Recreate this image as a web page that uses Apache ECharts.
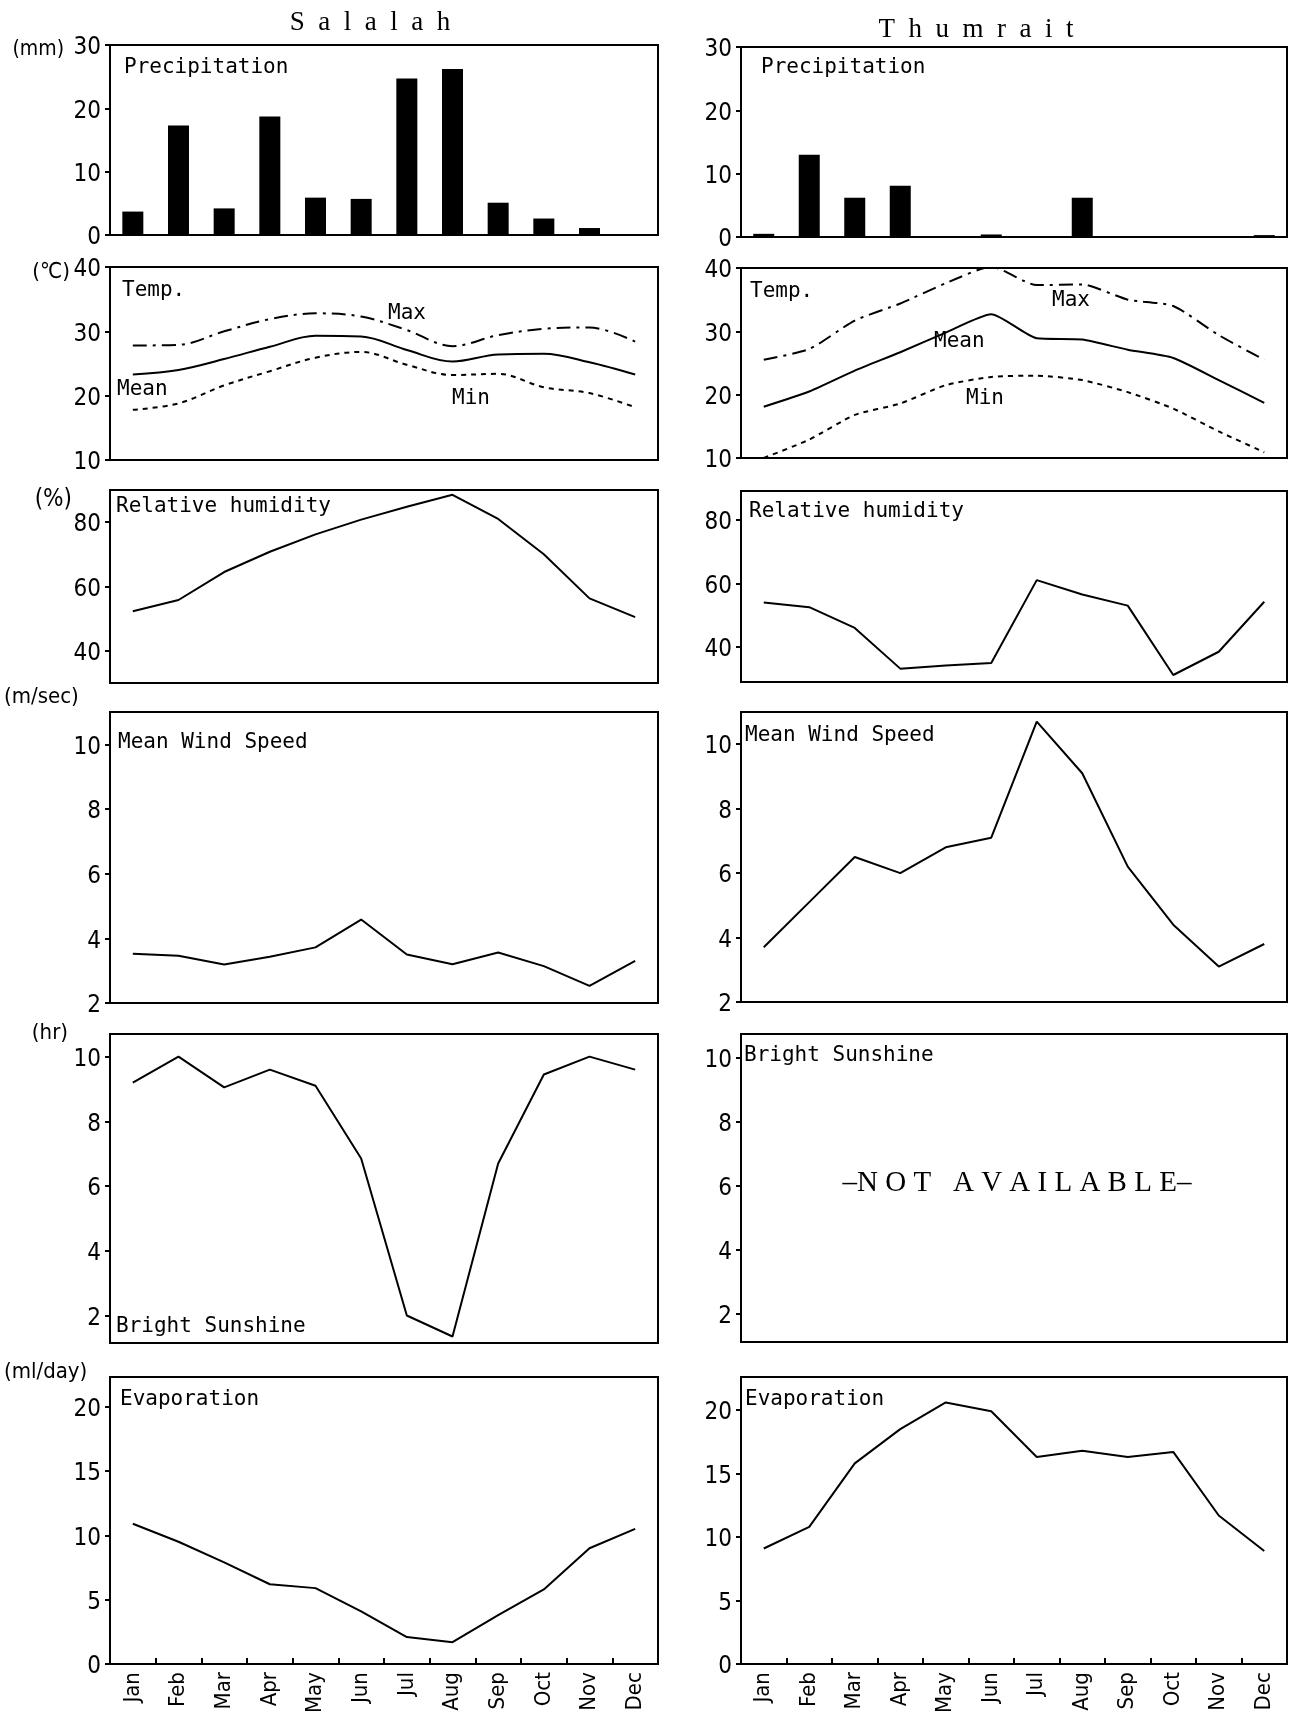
<!DOCTYPE html>
<html>
<head>
<meta charset="utf-8">
<script src="https://cdn.jsdelivr.net/npm/echarts@6/dist/echarts.min.js"></script>
<style>
html,body{margin:0;padding:0;background:#fff;}
#c{width:1289px;height:1716px;}
</style>
</head>
<body>
<div id="c"></div>
<script>
// ---------- data ----------
const months = ['Jan','Feb','Mar','Apr','May','Jun','Jul','Aug','Sep','Oct','Nov','Dec'];

const salalahPrecip = [3.7, 17.3, 4.2, 18.7, 5.9, 5.7, 24.7, 26.2, 5.1, 2.6, 1.1, 0];
const thumraitPrecip = [0.5, 13.0, 6.2, 8.1, 0, 0.4, 0, 6.2, 0, 0, 0, 0.3];

const salalahTMax  = [27.8, 27.9, 30.0, 31.9, 32.8, 32.3, 30.2, 27.7, 29.4, 30.4, 30.6, 28.4];
const salalahTMean = [23.3, 24.0, 25.7, 27.6, 29.3, 29.2, 27.1, 25.3, 26.4, 26.5, 25.2, 23.3];
const salalahTMin  = [17.8, 18.8, 21.6, 23.8, 25.9, 26.8, 24.8, 23.2, 23.4, 21.3, 20.4, 18.2];

const thumraitTMax  = [25.5, 27.2, 31.7, 34.4, 37.6, 40.2, 37.3, 37.4, 35.0, 34.0, 29.4, 25.5];
const thumraitTMean = [18.1, 20.5, 23.8, 26.7, 29.8, 32.7, 28.9, 28.7, 27.1, 25.8, 22.3, 18.7];
const thumraitTMin  = [10.0, 12.9, 16.8, 18.6, 21.5, 22.8, 23.0, 22.3, 20.4, 17.8, 14.2, 10.9];

const salalahRH  = [52.3, 55.8, 64.5, 70.8, 76.2, 80.8, 84.8, 88.5, 81.0, 70.0, 56.3, 50.5];
const thumraitRH = [54.0, 52.5, 46.0, 33.2, 34.2, 35.0, 61.0, 56.5, 53.0, 31.2, 38.5, 54.2];

const salalahWind  = [3.52, 3.46, 3.19, 3.43, 3.72, 4.58, 3.50, 3.20, 3.56, 3.14, 2.53, 3.30];
const thumraitWind = [3.7, 5.1, 6.5, 6.0, 6.8, 7.1, 10.7, 9.1, 6.2, 4.4, 3.1, 3.8];

const salalahSun = [9.2, 10.0, 9.05, 9.6, 9.1, 6.85, 2.0, 1.35, 6.7, 9.45, 10.0, 9.6];

const salalahEvap  = [10.9, 9.5, 7.9, 6.2, 5.9, 4.1, 2.1, 1.7, 3.8, 5.8, 9.0, 10.5];
const thumraitEvap = [9.1, 10.8, 15.8, 18.5, 20.6, 19.9, 16.3, 16.8, 16.3, 16.7, 11.7, 8.9];

const precipTicks = [0, 10, 20, 30];
const tempTicks   = [10, 20, 30, 40];
const rhTicks     = [40, 60, 80];
const windTicks   = [2, 4, 6, 8, 10];
const sunTicks    = [2, 4, 6, 8, 10];
const evapTicks   = [0, 5, 10, 15, 20];

// ---------- layout ----------
const FONT_NUM = "'Liberation Sans Narrow','DejaVu Sans Condensed',sans-serif";
const FONT_MONO = "'DejaVu Sans Mono','Liberation Mono',monospace";
const FONT_SERIF = "'Liberation Serif','DejaVu Serif',serif";

const colL = {left: 110, width: 548};
const colR = {left: 741, width: 546};
const rowsL = [[45,235],[267,460],[490,683],[712,1003],[1034,1343],[1377,1668]];
const rowsR = [[47,237],[268,458],[491,682],[712,1002],[1034,1342],[1377,1668]];
const ranges = [
  {L:[0,30], R:[0,30], ticks: precipTicks},
  {L:[10,40], R:[10,40], ticks: tempTicks},
  {L:[30,90], R:[29,89], ticks: rhTicks},
  {L:[2,11], R:[2,11], ticks: windTicks},
  {L:[1.15,10.7], R:[1.1,10.75], ticks: sunTicks},
  {L:[0,22.3], R:[0,22.6], ticks: evapTicks}
];

const grids = [], xAxes = [], yAxes = [];
for (let r = 0; r < 6; r++) {
  [['L', colL, rowsL], ['R', colR, rowsR]].forEach(([side, col, rows]) => {
    const idx = grids.length;
    grids.push({
      left: col.left, width: col.width, top: rows[r][0], height: rows[r][1] - rows[r][0],
      show: true, borderColor: '#000', borderWidth: 2, backgroundColor: 'transparent'
    });
    const bottomRow = r === 5;
    xAxes.push({
      type: 'category', gridIndex: idx, data: months, boundaryGap: true,
      axisLine: {show: false},
      axisTick: {show: bottomRow, inside: true, length: 6, lineStyle: {color: '#000', width: 2}},
      axisLabel: {show: bottomRow, rotate: 90, margin: 8, color: '#000',
        fontFamily: FONT_NUM, fontSize: 22, interval: 0},
      splitLine: {show: false}
    });
    const rg = ranges[r][side];
    yAxes.push({
      type: 'value', gridIndex: idx, min: rg[0], max: rg[1],
      axisLine: {show: false},
      axisTick: {show: true, inside: false, length: 5, customValues: ranges[r].ticks,
        lineStyle: {color: '#000', width: 2}},
      axisLabel: {show: true, customValues: ranges[r].ticks, margin: 9, color: '#000',
        fontFamily: FONT_NUM, fontSize: 24, verticalAlign: 'top', padding: [-9, 0, 0, 0]},
      splitLine: {show: false}
    });
  });
}

function lineSeries(idx, data, type, smooth) {
  return {
    type: 'line', xAxisIndex: idx, yAxisIndex: idx, data: data,
    symbol: 'none', smooth: smooth || false, silent: true,
    lineStyle: {color: '#000', width: 2, type: type || 'solid'}
  };
}
function barSeries(idx, data) {
  return {
    type: 'bar', xAxisIndex: idx, yAxisIndex: idx, data: data,
    barWidth: 21, silent: true, itemStyle: {color: '#000'}
  };
}

const DASHDOT = [14, 6, 3, 6];
const DOTTED = [5, 5];

const series = [
  barSeries(0, salalahPrecip),
  barSeries(1, thumraitPrecip),
  lineSeries(2, salalahTMax, DASHDOT, 0.35),
  lineSeries(2, salalahTMean, 'solid', 0.35),
  lineSeries(2, salalahTMin, DOTTED, 0.35),
  lineSeries(3, thumraitTMax, DASHDOT, 0.2),
  lineSeries(3, thumraitTMean, 'solid', 0.2),
  lineSeries(3, thumraitTMin, DOTTED, 0.2),
  lineSeries(4, salalahRH),
  lineSeries(5, thumraitRH),
  lineSeries(6, salalahWind),
  lineSeries(7, thumraitWind),
  lineSeries(8, salalahSun),
  lineSeries(10, salalahEvap),
  lineSeries(11, thumraitEvap)
];

function txt(x, y, text, font, size, opts) {
  opts = opts || {};
  return {
    type: 'text', x: x, y: y, silent: true,
    style: {text: text, fontFamily: font, fontSize: size, fill: '#000',
      align: opts.align || 'left', verticalAlign: opts.va || 'middle'}
  };
}

const graphics = [
  txt(370, 23, 'S  a  l  a  l  a  h', FONT_SERIF, 27, {align: 'center'}),
  txt(976, 30, 'T  h  u  m  r  a  i  t', FONT_SERIF, 27, {align: 'center'}),
  // units
  txt(64, 50, '(mm)', FONT_NUM, 21, {align: 'right'}),
  txt(70, 272, '(℃)', FONT_NUM, 22, {align: 'right'}),
  txt(72, 500, '(%)', FONT_NUM, 24, {align: 'right'}),
  txt(4, 697, '(m/sec)', FONT_NUM, 22),
  txt(68, 1033, '(hr)', FONT_NUM, 22, {align: 'right'}),
  txt(4, 1372, '(ml/day)', FONT_NUM, 22),
  // panel titles
  txt(124, 68, 'Precipitation', FONT_MONO, 21),
  txt(761, 68, 'Precipitation', FONT_MONO, 21),
  txt(122, 291, 'Temp.', FONT_MONO, 21),
  txt(750, 292, 'Temp.', FONT_MONO, 21),
  txt(388, 314, 'Max', FONT_MONO, 21),
  txt(117, 390, 'Mean', FONT_MONO, 21),
  txt(452, 399, 'Min', FONT_MONO, 21),
  txt(1052, 301, 'Max', FONT_MONO, 21),
  txt(934, 342, 'Mean', FONT_MONO, 21),
  txt(966, 399, 'Min', FONT_MONO, 21),
  txt(116, 507, 'Relative humidity', FONT_MONO, 21),
  txt(749, 512, 'Relative humidity', FONT_MONO, 21),
  txt(118, 743, 'Mean Wind Speed', FONT_MONO, 21),
  txt(745, 736, 'Mean Wind Speed', FONT_MONO, 21),
  txt(116, 1327, 'Bright Sunshine', FONT_MONO, 21),
  txt(744, 1056, 'Bright Sunshine', FONT_MONO, 21),
  txt(1017, 1183, '–N O T   A V A I L A B L E–', FONT_SERIF, 29, {align: 'center'}),
  txt(120, 1400, 'Evaporation', FONT_MONO, 21),
  txt(745, 1400, 'Evaporation', FONT_MONO, 21)
];

const chart = echarts.init(document.getElementById('c'), null, {renderer: 'canvas'});
chart.setOption({
  animation: false,
  backgroundColor: '#fff',
  grid: grids,
  xAxis: xAxes,
  yAxis: yAxes,
  series: series,
  graphic: graphics
});
</script>
</body>
</html>
